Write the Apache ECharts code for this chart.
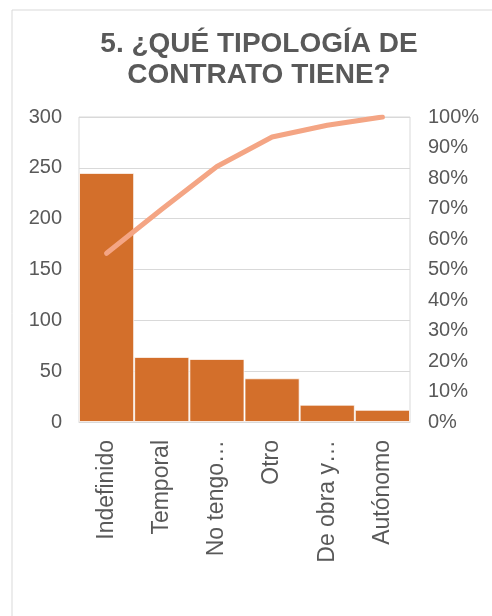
<!DOCTYPE html>
<html>
<head>
<meta charset="utf-8">
<script src="https://cdn.jsdelivr.net/npm/echarts@6/dist/echarts.min.js"></script>
<style>
  html, body { margin: 0; padding: 0; background: #fff; }
  #chart { width: 492px; height: 616px; }
</style>
</head>
<body>
<div id="chart"></div>
<script>
// Contract types, sorted by number of answers
const categories = ['Indefinido', 'Temporal', 'No tengo…', 'Otro', 'De obra y…', 'Autónomo'];
const counts = [245, 64, 62, 43, 17, 12];
const countTicks = [0, 300, 50];      // min, max, step of the left axis
const shareTicks = [0, 1, 0.1];       // min, max, step of the right axis

// Running share of the total (Pareto line)
const total = counts.reduce((a, b) => a + b, 0);
let running = 0;
const cumulative = counts.map(v => { running += v; return running / total; });

const textColor = '#595959';
const gridColor = '#d9d9d9';
const font = 'Liberation Sans, Arial, sans-serif';

const chart = echarts.init(document.getElementById('chart'));
chart.setOption({
  animation: false,
  textStyle: { fontFamily: font },
  title: {
    text: '5. ¿QUÉ TIPOLOGÍA DE\nCONTRATO TIENE?',
    left: 254,
    top: 24,
    textAlign: 'center',
    textStyle: {
      fontFamily: font,
      fontSize: 28,
      fontWeight: 'bold',
      lineHeight: 31,
      color: textColor
    }
  },
  graphic: [{
    type: 'rect',
    shape: { x: 12, y: 10, width: 520, height: 640 },
    style: { fill: 'none', stroke: gridColor, lineWidth: 1 },
    silent: true
  }],
  grid: {
    left: 79, right: 82, top: 117, bottom: 194,
    show: true, borderColor: gridColor, borderWidth: 1
  },
  xAxis: {
    type: 'category',
    data: categories,
    axisLine: { show: true, lineStyle: { color: gridColor } },
    axisTick: { show: false },
    axisLabel: {
      rotate: 90,
      margin: 18,
      fontSize: 23,
      color: textColor,
      interval: 0
    }
  },
  yAxis: [{
    type: 'value',
    min: countTicks[0], max: countTicks[1], interval: countTicks[2],
    axisLine: { show: false },
    axisTick: { show: false },
    axisLabel: { fontSize: 20, color: textColor, margin: 17 },
    splitLine: { lineStyle: { color: gridColor, width: 1 } }
  }, {
    type: 'value',
    min: shareTicks[0], max: shareTicks[1], interval: shareTicks[2],
    axisLine: { show: false },
    axisTick: { show: false },
    splitLine: { show: false },
    axisLabel: {
      fontSize: 20, color: textColor, margin: 18,
      formatter: v => Math.round(v * 100) + '%'
    }
  }],
  series: [{
    type: 'bar',
    data: counts,
    barCategoryGap: 0,
    itemStyle: {
      color: '#D36F2B',
      borderColor: 'rgba(255,255,255,0.75)',
      borderWidth: 1
    }
  }, {
    type: 'line',
    yAxisIndex: 1,
    data: cumulative,
    showSymbol: false,
    symbol: 'none',
    lineStyle: { color: '#F4A584', width: 5, cap: 'round', join: 'round' }
  }]
});
</script>
</body>
</html>
